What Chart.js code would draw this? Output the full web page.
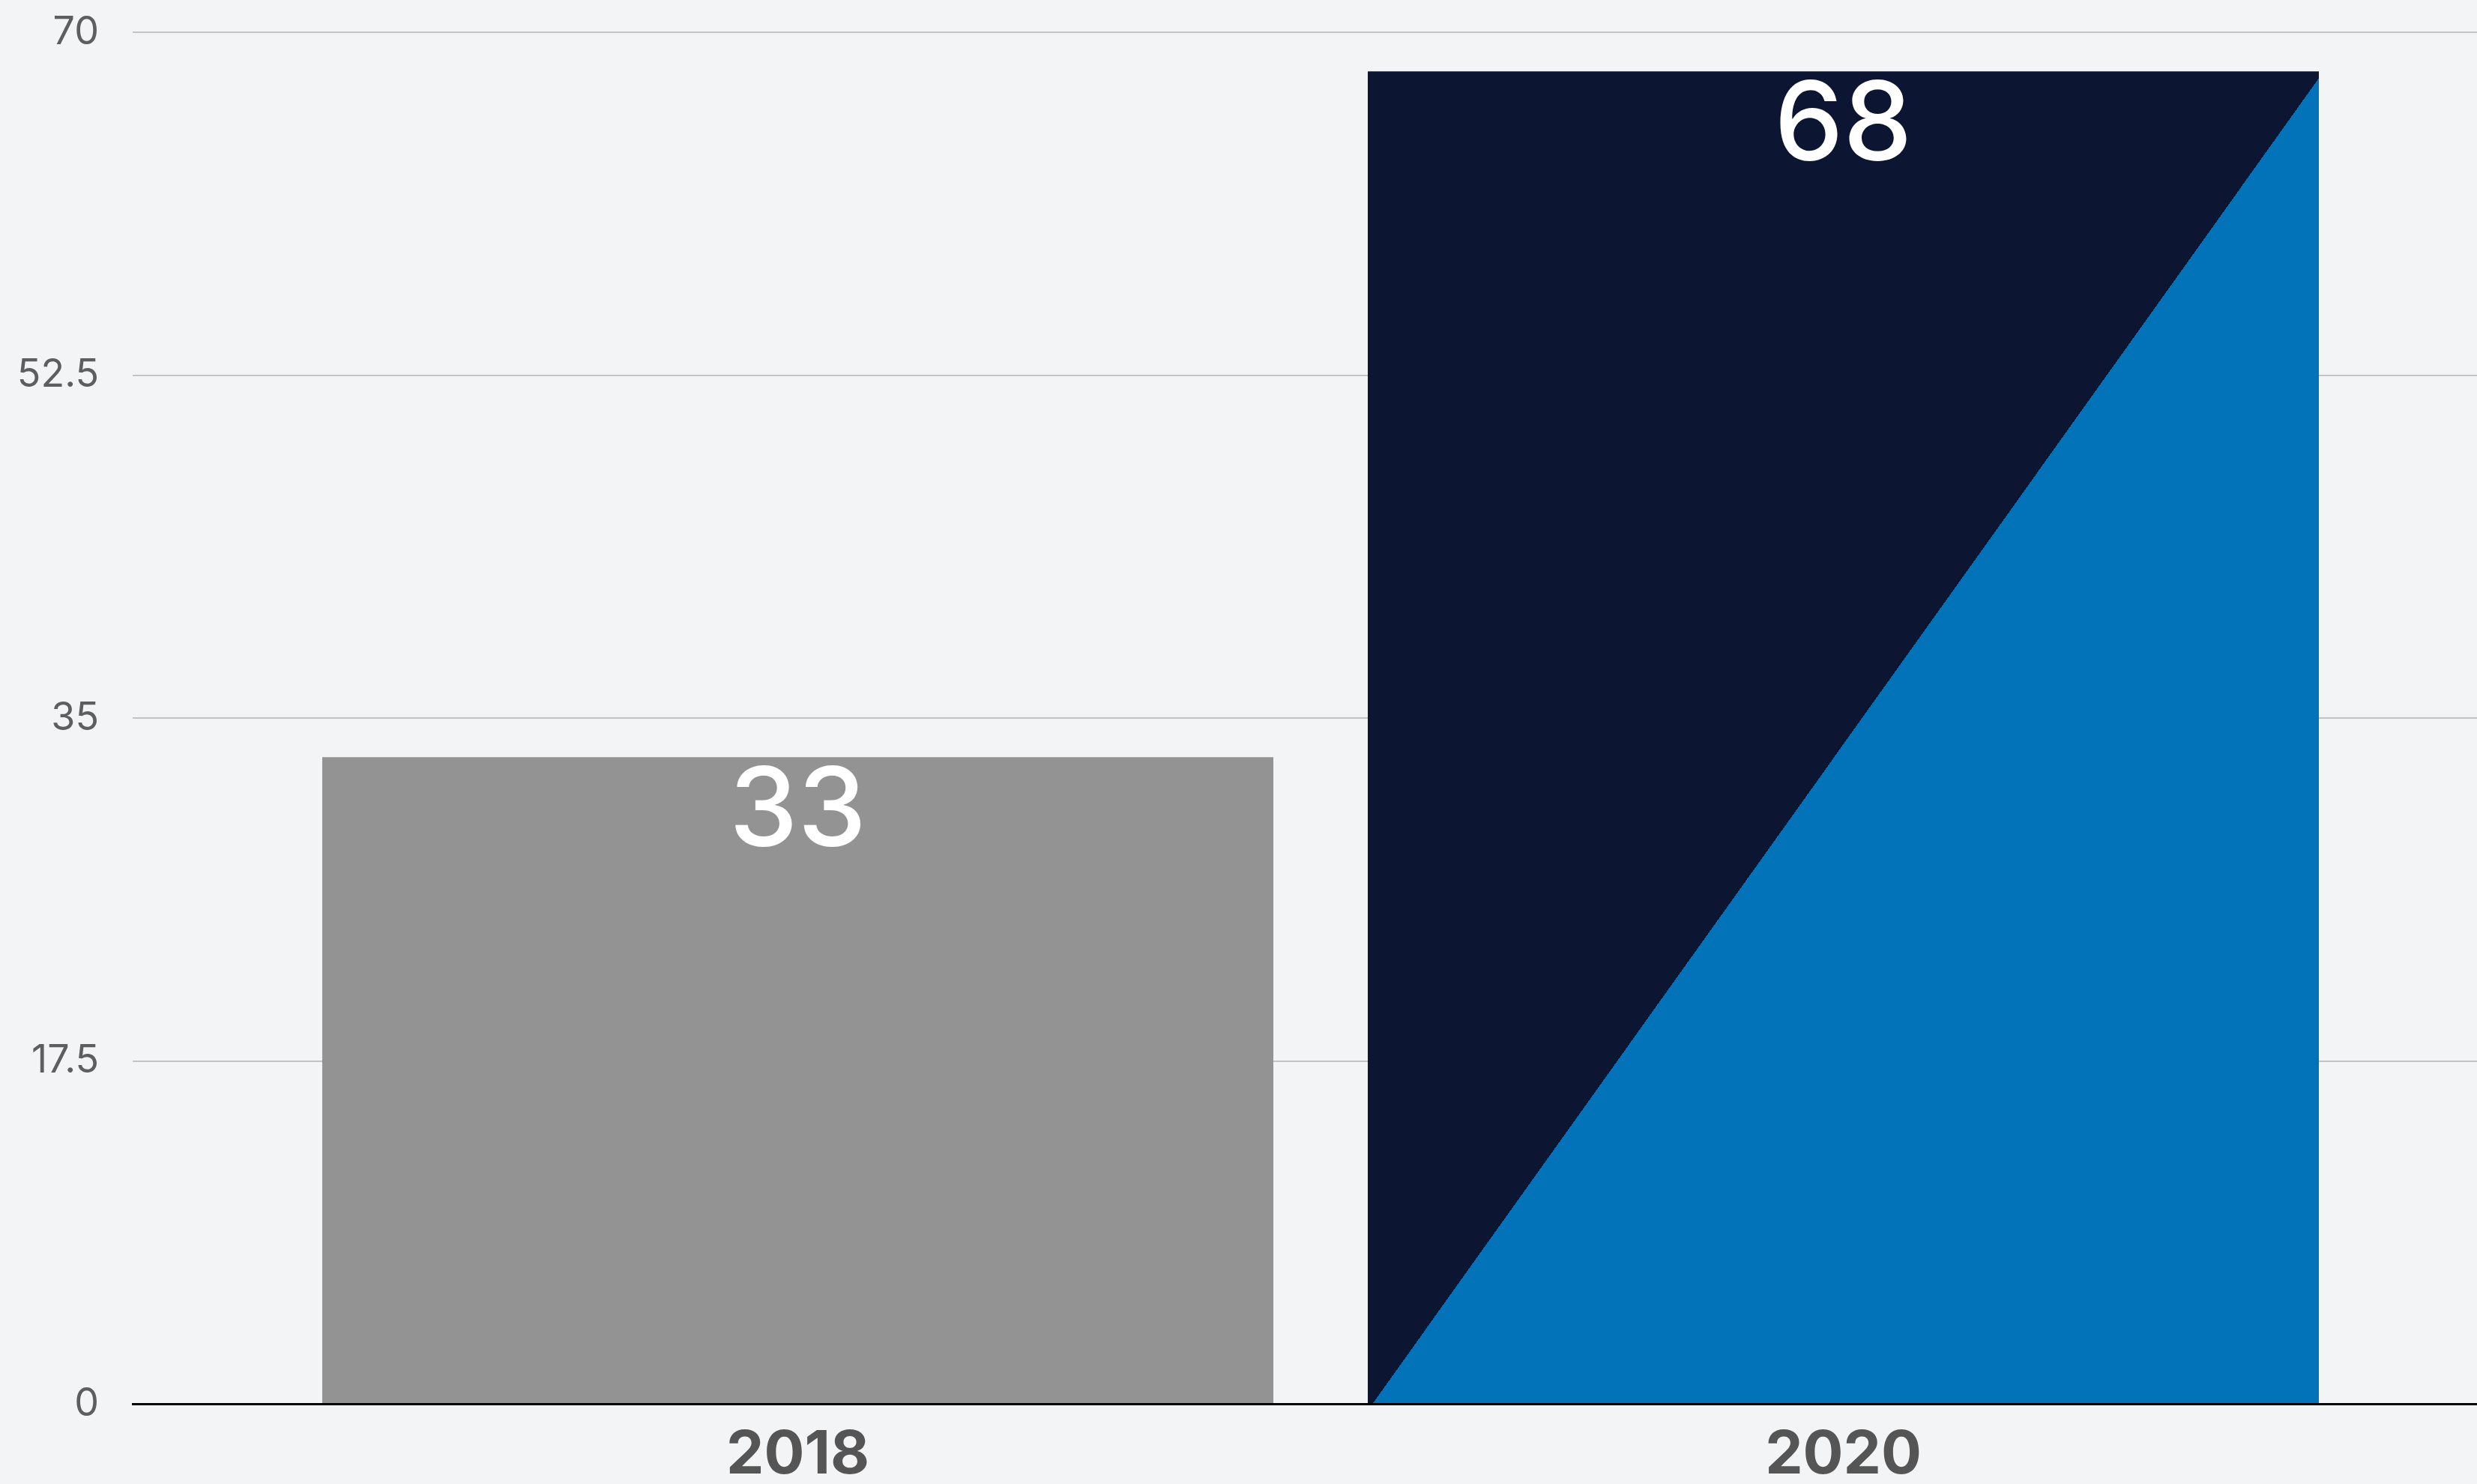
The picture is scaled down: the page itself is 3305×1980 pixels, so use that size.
<!DOCTYPE html>
<html>
<head>
<meta charset="utf-8">
<script src="https://cdn.jsdelivr.net/npm/chart.js@4/dist/chart.umd.min.js"></script>
<style>
  html, body { margin: 0; padding: 0; background: #f3f4f6; }
  #wrap { width: 3305px; height: 1980px; position: relative; }
</style>
</head>
<body>
<div id="wrap"><canvas id="c"></canvas></div>
<script>
const categories = ['2018', '2020'];
const values = [33, 68];
const yTicks = [0, 17.5, 35, 52.5, 70];

const GRAY = '#939393';
const NAVY = '#0c1532';
const BLUE = '#0273b8';
const BAR_PCT = 0.9097;

const xVals = categories.map(Number);

function splitFill(ctx) {
  const chart = ctx.chart;
  if (ctx.dataIndex === 0) return GRAY;
  const xs = chart.scales.x, ys = chart.scales.y;
  if (!chart.chartArea || !xs || !ys || xs.width === undefined) return NAVY;
  const spacing = Math.abs(xs.getPixelForValue(xVals[1]) - xs.getPixelForValue(xVals[0]));
  const half = spacing * BAR_PCT / 2;
  const cx = xs.getPixelForValue(xVals[ctx.dataIndex]);
  const L = cx - half, R = cx + half;
  const T = ys.getPixelForValue(values[ctx.dataIndex]);
  const B = ys.getPixelForValue(0);
  if (!isFinite(L) || !isFinite(T)) return NAVY;
  const w = R - L, h = B - T;
  const ax = L + 0.005 * w, ay = B;
  const cxp = R, cyp = T + 0.005 * h;
  const dx = cxp - ax, dy = cyp - ay;
  const len = Math.hypot(dx, dy);
  const nx = -dy / len, ny = dx / len;
  const g = chart.ctx.createLinearGradient(ax - nx, ay - ny, ax + nx, ay + ny);
  g.addColorStop(0, NAVY);
  g.addColorStop(0.5, NAVY);
  g.addColorStop(0.5, BLUE);
  g.addColorStop(1, BLUE);
  return g;
}

const bgPlugin = {
  id: 'bg',
  beforeDraw(chart) {
    const c = chart.ctx;
    c.save();
    c.fillStyle = '#f3f4f6';
    c.fillRect(0, 0, chart.width, chart.height);
    c.restore();
  }
};

const labelPlugin = {
  id: 'valueLabels',
  afterDatasetsDraw(chart) {
    const c = chart.ctx;
    const meta = chart.getDatasetMeta(0);
    c.save();
    c.fillStyle = '#ffffff';
    c.font = '500 146px Inter, "Noto Sans", sans-serif';
    c.textAlign = 'center';
    c.textBaseline = 'alphabetic';
    meta.data.forEach((el, i) => {
      c.fillText(String(values[i]), el.x, el.y + 119);
    });
    c.restore();
  }
};

new Chart(document.getElementById('c'), {
  type: 'bar',
  data: {
    datasets: [{
      data: categories.map((c, i) => ({ x: Number(c), y: values[i] })),
      backgroundColor: splitFill,
      borderWidth: 0,
      barPercentage: BAR_PCT,
      categoryPercentage: 1
    }]
  },
  options: {
    responsive: true,
    maintainAspectRatio: false,
    animation: false,
    layout: { padding: { top: 43, right: 0, left: 0, bottom: 0 } },
    plugins: {
      legend: { display: false },
      tooltip: { enabled: false }
    },
    scales: {
      x: {
        type: 'linear',
        offset: false,
        min: 2016.7276,
        max: 2021.2122,
        afterBuildTicks(scale) { scale.ticks = xVals.map(v => ({ value: v })); },
        afterFit(scale) { scale.height = 107; scale.paddingLeft = 0; scale.paddingRight = 0; },
        grid: { display: false, drawTicks: false, offset: false },
        border: { display: true, color: '#000000', width: 3 },
        ticks: {
          padding: 21,
          autoSkip: false,
          maxRotation: 0,
          color: '#555555',
          font: { family: 'Inter', size: 80, weight: '700' },
          callback(v) { const i = xVals.indexOf(v); return i >= 0 ? categories[i] : ''; }
        }
      },
      y: {
        min: 0,
        max: 70,
        afterBuildTicks(scale) { scale.ticks = yTicks.map(v => ({ value: v })); },
        afterFit(scale) { scale.width = 177; scale.paddingTop = 0; scale.paddingBottom = 0; },
        grid: { color: '#c2c3c5', lineWidth: 2, drawTicks: false },
        border: { display: false },
        ticks: {
          padding: 45,
          color: '#5e5e5e',
          font: { family: 'Inter', size: 52, weight: '400' },
          callback(v) { return String(v); }
        }
      }
    }
  },
  plugins: [bgPlugin, labelPlugin]
});
</script>
</body>
</html>
